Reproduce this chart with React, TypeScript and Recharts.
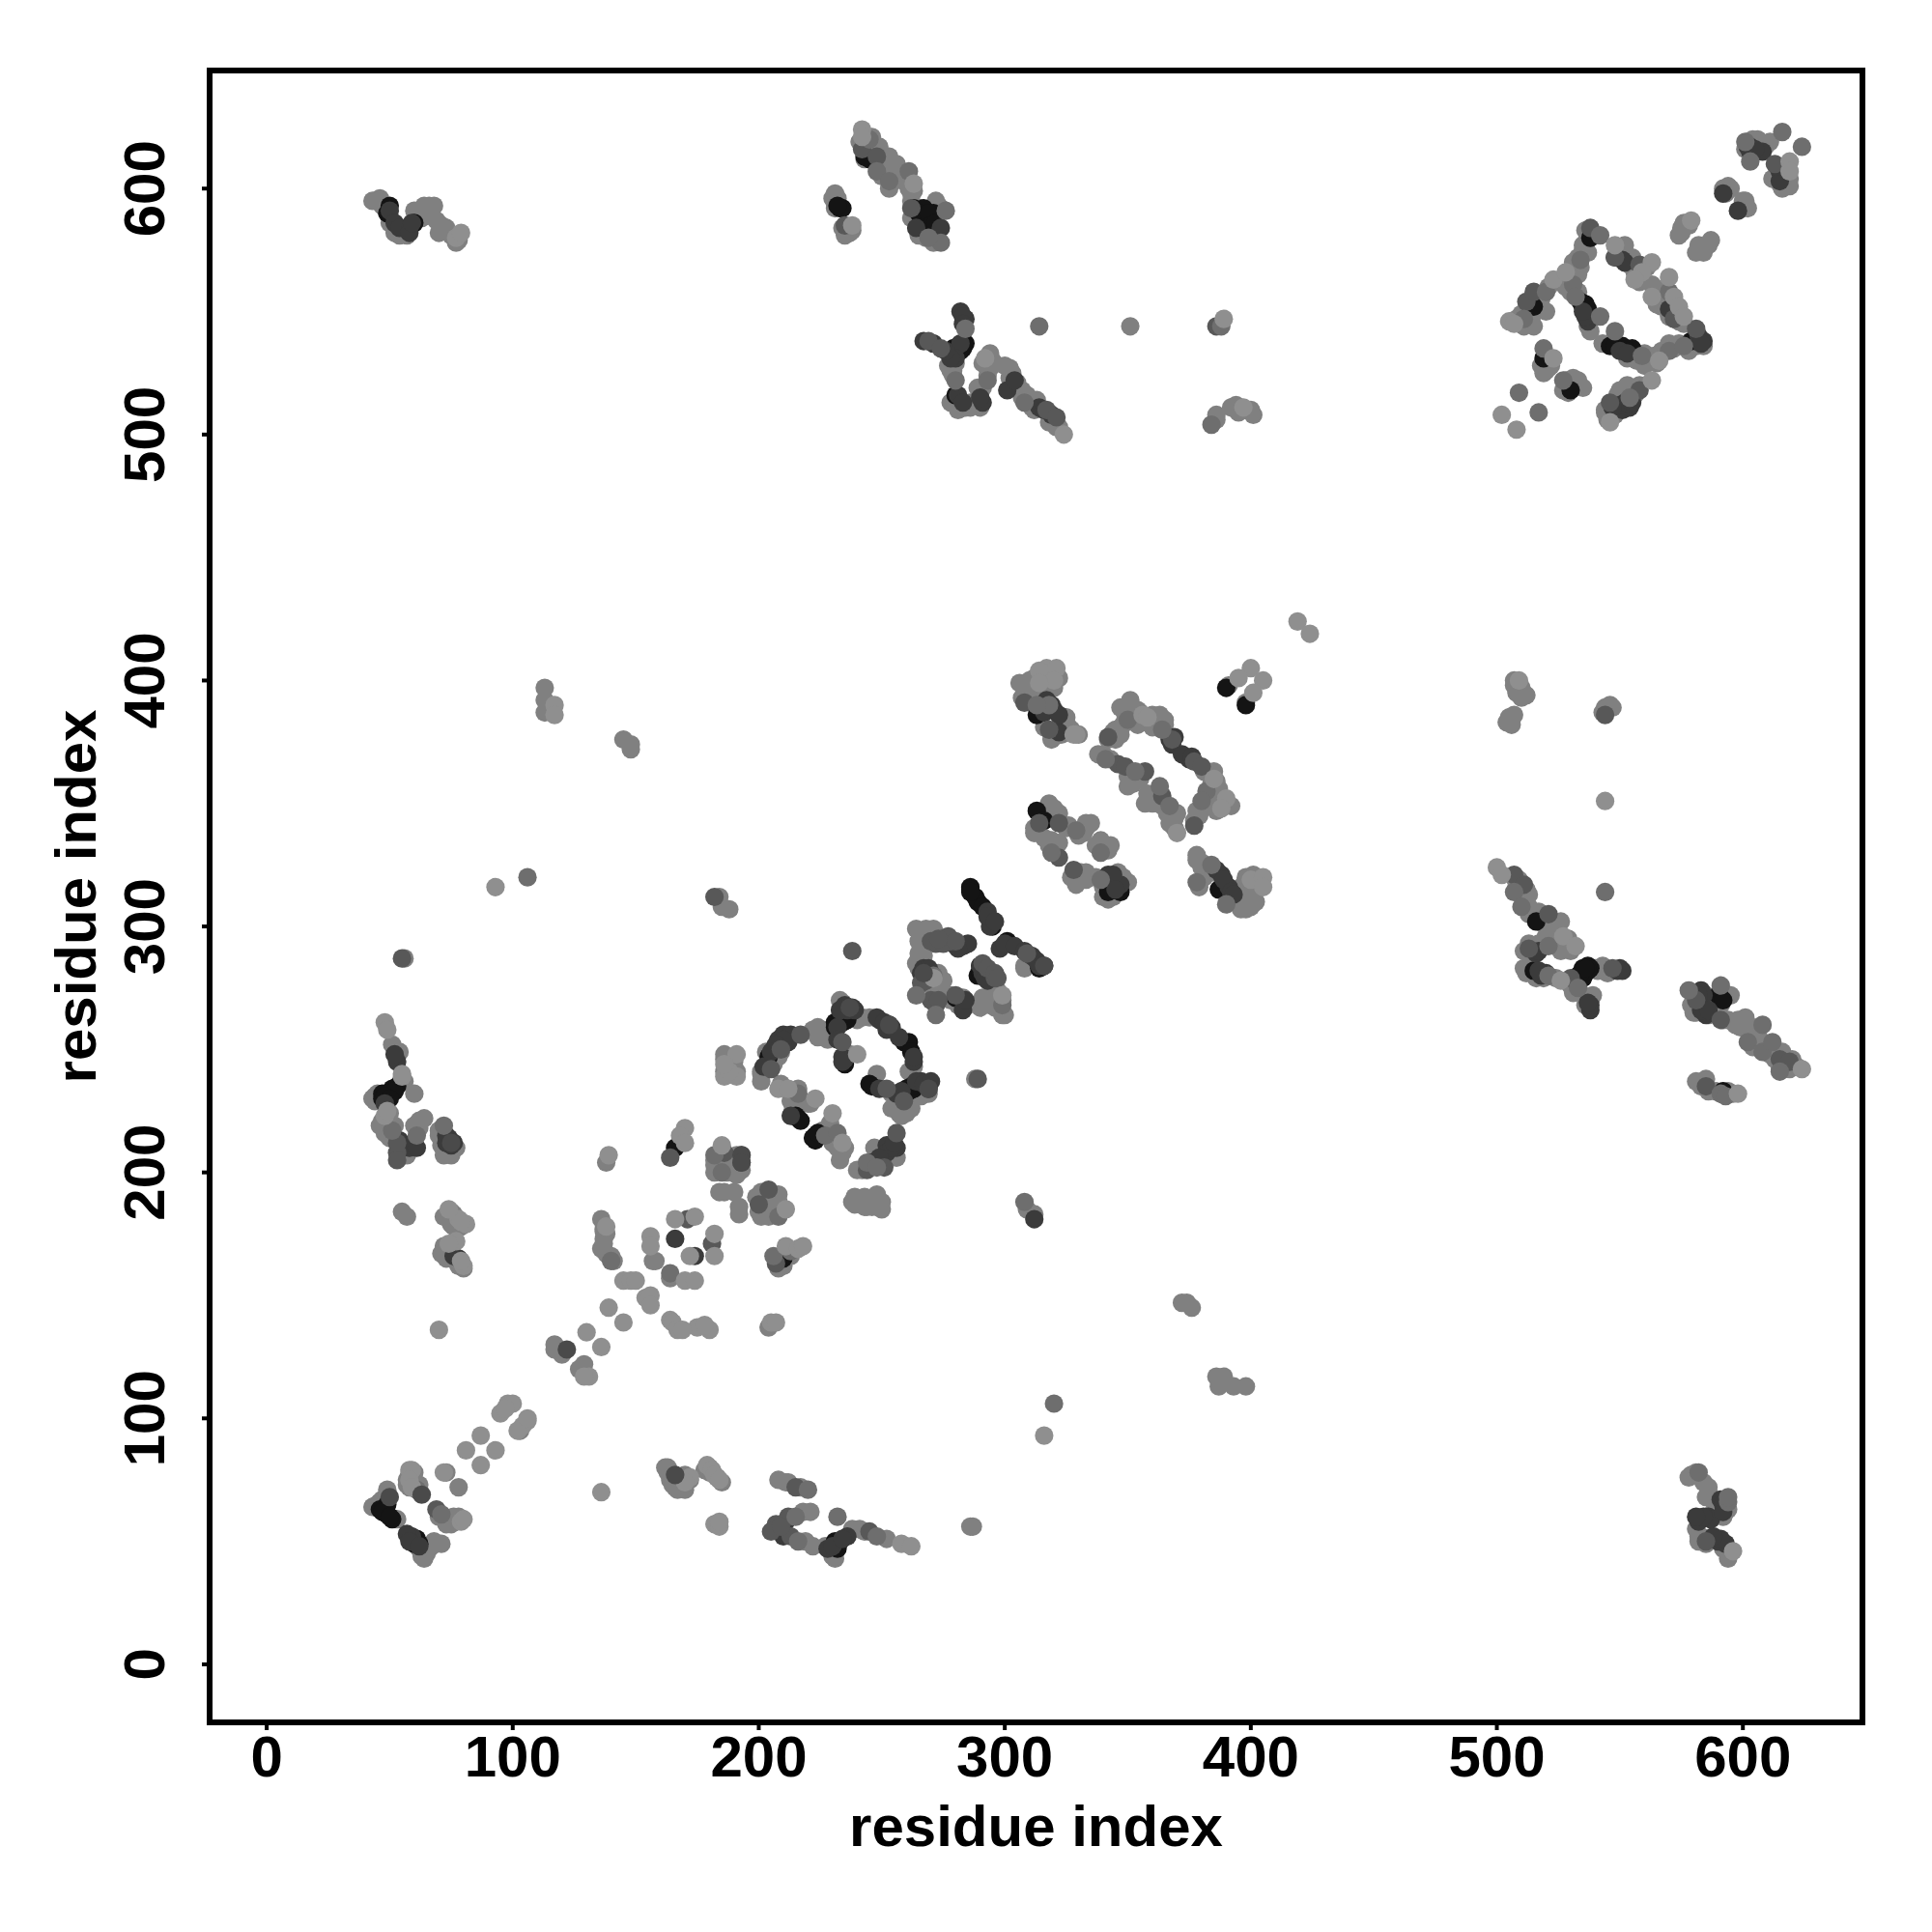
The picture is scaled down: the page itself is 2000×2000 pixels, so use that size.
import { ScatterChart, Scatter, XAxis, YAxis, ReferenceArea } from 'recharts';

const tickValues = [0, 100, 200, 300, 400, 500, 600];
const axisTitle = 'residue index';

// [residue i, residue j], grouped by how dark the contact is
const blackContacts = [
  [47, 232], [49, 230], [50, 232], [51, 234], [53, 235], [49, 232], [47, 230], [46, 63], [49, 61], [51, 59], [49, 65], [61, 51], [60, 49],
  [166, 210], [210, 165], [204, 247], [231, 261], [233, 262], [235, 263], [235, 244], [259, 253], [261, 253], [262, 249], [245, 236], [261, 233], [263, 234],
  [216, 222], [223, 215], [223, 213], [246, 204], [280, 271], [289, 280], [293, 281], [290, 284], [314, 283], [313, 386], [313, 347], [316, 343], [347, 314], [342, 314], [387, 315],
  [515, 552], [519, 531], [530, 518], [538, 580], [534, 554], [537, 551], [546, 536], [551, 536], [555, 535], [579, 538], [245, 612], [263, 592], [267, 592], [271, 590], [268, 584], [233, 592],
  [279, 535], [284, 537], [280, 516], [516, 302], [515, 282], [533, 279], [537, 284], [536, 281], [538, 283], [591, 271], [592, 233], [301, 294], [286, 316], [288, 312], [390, 397], [398, 390],
  [52, 233], [48, 231], [50, 230], [48, 63], [47, 62], [50, 60], [60, 50], [59, 51], [62, 49], [232, 260], [234, 261], [236, 262], [231, 259], [260, 234], [262, 235], [258, 232], [246, 235], [215, 223], [217, 221], [222, 214], [224, 216], [247, 203],
  [286, 315], [289, 310], [291, 308], [295, 300], [286, 314], [281, 536], [282, 534], [278, 534], [283, 535], [280, 533], [533, 280], [535, 283], [537, 282], [535, 279], [534, 281], [536, 283], [548, 536], [552, 535], [535, 552], [536, 553], [590, 272], [592, 270],
  [290, 282], [291, 282], [50, 593], [49, 590], [58, 584], [60, 586], [243, 613], [265, 590], [269, 590], [270, 585], [272, 586], [234, 592], [232, 593], [231, 50], [233, 50], [232, 47],
];
const darkContacts = [
  [53, 245], [60, 212], [57, 211], [74, 214], [75, 211], [59, 52], [166, 173], [174, 166], [78, 165], [76, 166], [202, 243], [206, 250], [208, 254], [210, 256], [213, 256], [212, 253],
  [238, 267], [235, 268], [232, 259], [234, 247], [249, 262], [253, 260], [252, 258], [263, 245], [249, 234], [257, 232], [266, 237], [269, 234], [213, 223], [256, 210], [252, 211], [250, 205],
  [266, 281], [270, 281], [283, 266], [293, 306], [294, 300], [283, 292], [290, 284], [314, 284], [316, 284], [316, 390], [320, 388], [316, 387], [322, 379], [367, 376], [375, 368], [342, 321], [347, 317], [388, 321], [391, 316],
  [312, 181], [551, 510], [554, 511], [537, 546], [584, 538], [570, 551], [551, 571], [592, 598], [598, 591], [602, 617], [603, 615], [608, 615], [615, 607], [615, 603],
  [267, 538], [278, 533], [282, 537], [280, 531], [282, 550], [284, 547], [264, 584], [274, 584], [291, 513], [301, 518], [314, 511], [518, 280], [516, 289], [551, 282], [538, 266], [583, 274], [585, 264],
  [586, 60], [582, 58], [591, 67], [593, 49], [590, 50], [304, 522],
  [52, 248], [48, 228], [54, 213], [58, 210], [61, 210], [73, 215], [76, 212], [73, 212], [50, 591], [52, 586], [54, 584], [58, 582], [59, 586], [57, 53], [58, 50], [62, 48], [210, 254], [207, 252], [205, 249], [236, 266], [239, 266], [233, 266], [232, 254], [235, 246], [234, 245],
  [248, 263], [251, 261], [254, 259], [257, 255], [263, 247], [256, 232], [258, 233], [264, 237], [267, 236], [270, 237], [252, 208], [254, 210], [255, 212], [249, 206], [267, 283], [269, 283], [284, 270], [291, 281], [292, 279], [293, 278], [298, 291], [300, 293], [304, 292], [308, 290], [311, 288], [313, 286],
  [293, 304], [296, 302], [285, 293], [281, 291], [279, 293], [275, 295], [317, 392], [319, 390], [322, 386], [368, 374], [372, 370], [376, 369], [369, 377], [344, 321], [345, 315], [386, 323], [389, 319], [392, 314], [393, 313], [278, 531], [276, 534], [271, 537], [283, 548], [283, 545], [281, 516], [283, 513], [290, 515], [316, 510], [319, 508],
  [536, 548], [535, 550], [550, 534], [553, 533], [582, 540], [583, 537], [550, 512], [552, 513], [555, 513], [547, 511], [548, 572], [552, 570], [603, 617], [605, 616], [614, 609], [538, 268], [537, 269], [549, 282], [550, 283], [584, 272], [582, 272], [583, 266], [586, 266], [587, 59], [584, 60], [581, 60], [592, 65], [592, 62], [591, 51], [588, 52], [520, 281], [517, 282], [517, 290],
  [211, 58], [210, 52], [228, 47], [236, 52], [230, 48], [234, 51],
];
const darkMidContacts = [
  [53, 208], [53, 205], [53, 212], [164, 206], [186, 208], [193, 207], [193, 204], [200, 187], [204, 193], [207, 163], [171, 181], [181, 171], [69, 63],
  [205, 242], [209, 250], [217, 256], [234, 253], [252, 234], [259, 229], [256, 216], [244, 201], [251, 202], [278, 294], [280, 272], [296, 279], [309, 289], [289, 238], [238, 290], [55, 287], [182, 312],
  [308, 391], [314, 342], [322, 342], [322, 328], [328, 323], [318, 380], [342, 377], [346, 366], [349, 365], [357, 363], [364, 353], [368, 376], [377, 367], [380, 365], [377, 341],
  [512, 554], [515, 558], [546, 513], [558, 518], [538, 584], [548, 572], [558, 569], [572, 547], [581, 543], [613, 610], [242, 616], [248, 613], [262, 592], [235, 585], [269, 538], [274, 535], [317, 510], [321, 507],
  [386, 544], [507, 321], [511, 317], [521, 305], [513, 291], [530, 279], [547, 283], [581, 270], [591, 262], [615, 246], [619, 245], [585, 235], [585, 50], [544, 386],
  [272, 293], [275, 293], [277, 296], [280, 294], [270, 294], [273, 295], [291, 285], [293, 283], [296, 281], [297, 279], [266, 277], [268, 278], [270, 270], [272, 268], [273, 270],
  [207, 57], [205, 54], [213, 52], [215, 72], [245, 54], [212, 60], [209, 56],
];
const midContacts = [
  [51, 217], [61, 215], [72, 219], [140, 164], [164, 159], [182, 207], [185, 200], [208, 182], [213, 168], [206, 166], [61, 71], [71, 61],
  [216, 232], [227, 215], [232, 216], [244, 204], [248, 202], [271, 280], [264, 272], [272, 264], [308, 188], [299, 268], [318, 390], [313, 390], [350, 384], [364, 380],
  [353, 363], [341, 368], [363, 357], [367, 349], [382, 355], [380, 351], [319, 330], [329, 339], [339, 330], [339, 319], [378, 318], [384, 325], [390, 309], [320, 106], [106, 320],
  [509, 517], [517, 509], [520, 558], [511, 547], [519, 535], [527, 522], [554, 515], [542, 581], [534, 571], [531, 561], [532, 556], [542, 548], [548, 542], [559, 532], [570, 534], [576, 536], [570, 558],
  [601, 619], [603, 611], [616, 623], [624, 617], [245, 620], [248, 607], [253, 603], [261, 607], [276, 591], [274, 578], [269, 580], [284, 543], [280, 522], [293, 522], [308, 513], [314, 544], [388, 544], [384, 504],
  [507, 314], [510, 308], [521, 292], [521, 280], [533, 275], [544, 314], [578, 274], [591, 276], [608, 260], [602, 253], [608, 249], [612, 253], [615, 241], [591, 232], [593, 231], [582, 78], [594, 66], [594, 68],
  [220, 71], [215, 60], [216, 50], [232, 60], [248, 52],
];
const greyContacts = [
  [54, 249], [51, 252], [43, 230], [60, 232], [47, 221], [55, 210], [75, 207], [71, 211], [70, 215], [62, 221], [55, 184], [57, 182], [74, 181], [75, 179], [71, 167], [74, 167],
  [117, 130], [117, 128], [120, 126], [127, 120], [129, 122], [103, 95], [73, 78], [78, 72], [43, 64], [49, 71], [53, 59], [58, 72], [57, 73], [74, 59], [77, 58], [64, 43], [63, 46], [68, 50], [71, 49],
  [162, 80], [164, 78], [165, 77], [167, 75], [167, 71], [138, 204], [136, 181], [137, 173], [136, 169], [139, 166], [158, 164], [157, 164], [164, 157], [186, 248], [186, 192], [184, 192], [192, 186], [192, 183],
  [182, 203], [191, 207], [191, 201], [191, 199], [201, 192], [208, 191], [201, 182], [204, 185], [207, 186], [204, 137], [201, 240], [208, 247], [225, 257], [227, 255], [223, 257], [234, 269], [237, 248],
  [242, 263], [245, 263], [263, 243], [248, 240], [254, 232], [269, 232], [258, 226], [257, 224], [220, 228], [214, 226], [234, 208], [240, 201], [239, 190], [239, 187], [243, 190], [248, 191], [248, 186], [243, 186],
  [278, 272], [283, 270], [299, 264], [294, 271], [290, 267], [308, 283], [308, 284], [312, 183], [309, 185], [306, 399], [308, 395], [325, 385], [325, 379], [347, 389], [351, 392], [352, 389],
  [345, 380], [345, 378], [338, 370], [350, 357], [354, 361], [357, 350], [363, 386], [369, 344], [385, 363], [386, 359], [378, 347], [377, 343], [391, 398], [398, 391], [318, 350], [312, 340], [322, 346],
  [320, 333], [322, 334], [333, 342], [332, 338], [341, 333], [343, 333], [332, 321], [333, 319], [329, 319], [340, 312], [346, 322], [350, 318], [378, 329], [380, 326], [397, 317], [401, 313], [400, 308], [396, 309],
  [518, 551], [515, 550], [511, 544], [519, 527], [522, 528], [527, 518], [531, 523], [535, 519], [544, 509], [550, 518], [536, 583], [537, 574], [532, 567], [528, 560], [537, 544], [543, 537], [553, 531], [562, 530], [572, 535], [584, 536],
  [551, 573], [555, 572], [566, 559], [575, 584], [574, 581], [587, 579], [583, 575], [581, 574], [594, 601], [592, 600], [601, 595], [600, 592], [601, 616], [607, 619], [611, 619], [615, 602], [619, 601],
  [249, 617], [253, 613], [257, 607], [262, 598], [272, 595], [265, 581], [231, 598], [231, 592], [237, 582], [278, 526], [280, 513], [286, 511], [290, 511], [290, 517], [294, 527], [302, 527], [307, 518], [313, 514],
  [321, 503], [386, 508], [394, 512], [398, 510], [401, 508], [351, 544], [507, 400], [510, 397], [512, 394], [507, 386], [504, 383], [544, 389], [547, 389], [513, 313], [513, 305], [517, 306], [522, 302], [526, 302],
  [517, 293], [511, 290], [511, 283], [538, 270], [543, 284], [580, 265], [585, 272], [595, 272], [592, 262], [601, 263], [598, 262], [604, 259], [607, 254], [616, 249], [619, 242], [581, 237], [585, 238], [579, 77], [586, 70], [594, 63], [582, 52], [594, 43],
  [43, 595], [46, 596], [52, 582], [62, 590], [64, 593], [68, 593], [66, 589], [71, 585], [70, 582], [113, 397], [113, 392], [113, 387], [145, 376], [148, 374], [148, 372], [184, 312], [185, 308], [288, 238], [56, 287], [188, 307],
  [286, 56], [287, 56], [372, 147], [374, 147], [376, 145], [386, 117], [389, 117], [387, 113], [393, 113], [398, 113],
  [44, 229], [46, 219], [48, 216], [50, 214], [52, 219], [50, 224], [45, 232], [44, 231], [56, 237], [54, 236], [57, 207], [60, 219], [62, 218], [64, 222], [70, 217], [72, 207], [73, 209], [77, 210], [75, 184], [76, 183], [77, 181], [79, 178], [76, 178], [72, 182], [72, 170], [73, 165], [77, 164], [78, 162], [80, 161],
  [58, 77], [60, 78], [57, 75], [59, 74], [60, 72], [62, 73], [72, 60], [75, 57], [78, 60], [73, 57], [76, 60], [70, 60], [46, 66], [47, 67], [45, 65], [63, 44], [65, 45], [66, 47], [62, 47], [67, 48],
  [163, 78], [164, 75], [165, 73], [168, 73], [170, 71], [172, 75], [170, 77], [163, 80], [166, 72], [168, 76], [180, 78], [183, 76], [180, 80], [185, 74], [178, 79],
  [137, 176], [137, 171], [138, 167], [140, 166], [141, 164], [137, 177], [138, 175], [186, 246], [190, 245], [186, 241], [191, 241], [183, 204], [184, 202], [187, 200], [193, 201], [189, 205], [187, 205], [182, 205], [182, 200], [184, 207],
  [201, 189], [203, 190], [205, 187], [200, 184], [202, 183], [204, 182], [206, 188], [208, 188], [209, 185], [199, 190], [203, 187], [205, 183], [190, 192], [210, 162], [208, 161], [213, 166],
  [201, 237], [201, 241], [203, 249], [209, 249], [207, 248], [204, 243], [206, 244], [222, 258], [224, 255], [226, 258], [228, 254], [224, 259], [230, 257], [233, 270], [240, 262],
  [254, 226], [256, 228], [258, 223], [260, 224], [259, 228], [257, 230], [256, 226], [262, 226], [265, 232], [262, 230], [266, 231], [209, 236], [214, 232], [216, 234], [218, 229], [221, 228], [213, 229], [229, 220], [228, 218], [230, 212], [232, 210], [235, 210], [233, 205], [226, 217],
  [244, 188], [246, 189], [241, 188], [244, 186], [246, 186], [250, 188], [250, 185], [238, 188], [242, 201], [256, 206], [252, 205], [249, 209], [247, 210], [261, 241], [262, 240],
  [264, 299], [268, 299], [271, 299], [266, 298], [272, 297], [265, 294], [268, 296], [264, 285], [265, 283], [268, 279], [270, 276], [272, 277], [273, 281], [275, 278], [267, 288], [265, 289], [275, 272], [278, 270], [281, 268], [283, 271], [285, 268], [291, 271], [295, 270], [297, 274], [299, 270], [298, 267], [296, 267], [300, 264], [294, 268],
  [308, 398], [310, 396], [307, 393], [309, 392], [310, 400], [312, 401], [316, 401], [318, 402], [322, 401], [320, 397], [316, 396], [312, 394], [312, 391], [324, 382], [326, 381], [327, 380], [330, 378], [323, 378], [320, 377], [319, 376], [316, 381],
  [342, 376], [344, 379], [345, 376], [347, 378], [348, 382], [349, 386], [352, 386], [354, 388], [356, 384], [358, 383], [360, 386], [362, 383], [365, 384], [360, 381], [365, 382], [352, 384], [354, 382], [355, 387],
  [340, 370], [343, 368], [350, 361], [352, 358], [355, 360], [358, 354], [361, 353], [360, 350], [362, 352], [364, 349], [366, 346], [367, 342], [369, 340], [368, 347], [370, 346], [383, 362], [381, 363], [384, 358], [387, 356], [389, 350], [392, 349], [386, 347], [384, 353], [379, 345], [380, 348], [383, 352], [382, 349],
  [312, 338], [316, 336], [318, 333], [319, 335], [320, 348], [319, 345], [315, 346], [317, 345], [325, 340], [326, 341], [330, 337], [333, 340], [335, 342], [337, 333], [339, 335], [340, 331], [342, 331], [331, 322], [333, 322], [327, 320], [329, 317], [335, 320], [337, 320], [340, 316], [344, 312], [342, 311], [344, 319], [348, 320],
  [378, 327], [380, 324], [381, 320], [379, 316], [382, 322], [385, 322], [395, 315], [398, 312], [402, 310], [400, 311], [396, 307], [398, 307], [402, 316], [403, 318], [398, 320], [401, 321], [509, 396], [507, 398], [508, 395], [510, 393], [505, 385], [506, 382], [546, 390], [543, 387],
  [508, 547], [510, 549], [512, 546], [514, 547], [516, 553], [518, 555], [521, 560], [515, 544], [512, 548], [520, 550], [517, 553], [518, 528], [521, 527], [520, 526], [520, 532], [519, 525], [528, 522], [530, 519], [533, 522], [533, 520], [529, 517], [544, 510], [546, 509], [548, 508], [545, 506], [549, 512], [552, 516], [555, 517], [558, 520], [549, 516], [553, 520], [556, 516],
  [535, 575], [536, 578], [533, 572], [534, 568], [530, 564], [530, 558], [531, 570], [535, 577], [533, 565], [528, 563], [530, 561], [533, 558], [538, 542], [557, 530], [560, 528], [564, 532], [567, 534], [570, 537], [574, 537], [577, 536], [578, 534], [581, 536], [565, 529], [560, 533], [552, 577], [554, 569], [556, 566], [561, 568], [558, 562], [563, 561], [565, 553], [568, 555], [567, 552], [570, 548], [572, 550], [574, 546], [576, 545], [572, 553],
  [575, 582], [576, 586], [578, 585], [582, 577], [586, 577], [584, 574], [593, 598], [595, 600], [600, 595], [602, 592], [602, 618], [604, 620], [606, 620], [609, 617], [617, 605], [617, 608], [619, 604], [616, 600], [612, 604],
  [241, 619], [244, 617], [246, 621], [247, 614], [250, 610], [252, 608], [254, 606], [256, 610], [258, 606], [259, 603], [261, 600], [263, 599], [255, 603], [253, 600], [250, 605], [243, 612], [262, 595], [262, 588], [265, 588], [266, 592], [268, 580], [270, 582], [272, 581], [271, 578], [273, 593], [274, 592], [232, 596], [230, 596], [231, 594], [234, 584], [236, 584], [238, 583], [235, 581],
  [279, 526], [280, 529], [277, 528], [279, 524], [281, 510], [278, 513], [284, 511], [286, 513], [288, 512], [289, 519], [291, 519], [293, 524], [291, 529], [293, 527], [295, 530], [294, 533], [300, 528], [303, 525], [302, 523], [305, 521], [307, 515], [309, 516], [311, 511], [312, 510], [318, 505], [320, 505], [322, 503],
  [507, 320], [509, 319], [512, 315], [508, 316], [511, 310], [513, 308], [516, 304], [519, 304], [519, 301], [523, 300], [513, 293], [515, 292], [519, 294], [520, 296], [523, 294], [525, 292], [526, 290], [529, 295], [530, 290], [512, 281], [513, 284], [516, 279], [519, 279], [524, 279], [530, 276], [531, 273], [534, 273], [536, 268], [539, 272], [540, 283], [545, 281], [541, 282],
  [579, 268], [581, 265], [583, 266], [586, 264], [585, 268], [589, 265], [591, 268], [594, 262], [597, 260], [599, 259], [600, 261], [603, 256], [605, 258], [606, 251], [604, 251], [609, 250], [611, 248], [613, 246], [615, 243], [617, 243], [620, 246], [622, 243], [583, 235], [586, 233], [589, 233], [594, 233], [596, 232],
  [578, 76], [581, 78], [584, 74], [586, 72], [585, 68], [590, 63], [592, 60], [593, 62], [588, 62], [581, 55], [582, 50], [585, 49], [583, 52], [592, 47], [594, 46],
  [45, 595], [47, 593], [48, 592], [50, 586], [54, 581], [55, 583], [56, 582], [57, 581], [60, 591], [63, 588], [66, 593], [67, 591], [69, 587], [71, 583], [73, 584], [75, 581], [77, 578], [78, 579], [386, 506], [392, 511], [395, 509], [400, 510],
  [208, 75], [211, 74], [212, 74], [217, 72], [221, 62], [218, 62], [222, 48], [227, 48], [219, 50], [230, 44], [231, 43], [238, 55], [241, 55], [252, 51], [243, 54],
];
const lightContacts = [
  [48, 261], [49, 258], [55, 239], [55, 240], [48, 223], [49, 225], [78, 181], [81, 179], [79, 180], [74, 185], [77, 172], [80, 162], [79, 164], [74, 171], [70, 136],
  [130, 135], [136, 129], [131, 117], [129, 117], [139, 145], [145, 139], [98, 106], [100, 106], [95, 102], [97, 104], [106, 99], [104, 97], [102, 95], [106, 100], [87, 93], [81, 87], [93, 87], [87, 81], [72, 78],
  [58, 79], [59, 79], [58, 75], [59, 72], [79, 58], [80, 59], [136, 70], [172, 76], [179, 81], [181, 79], [182, 77], [184, 75], [170, 74], [182, 57], [184, 56], [184, 58],
  [139, 207], [138, 178], [145, 156], [148, 156], [150, 156], [154, 149], [156, 150], [156, 146], [156, 174], [156, 170], [170, 156], [174, 156], [166, 181], [174, 182], [172, 166], [182, 166], [182, 175],
  [164, 140], [165, 139], [167, 136], [175, 137], [180, 136], [178, 138], [169, 136], [205, 139], [207, 139], [170, 218], [168, 215], [170, 212], [185, 211], [191, 248], [186, 239], [191, 239], [188, 241], [186, 244],
  [211, 185], [211, 170], [216, 169], [218, 170], [240, 248], [208, 234], [212, 234], [223, 230], [230, 224], [234, 212], [271, 279], [299, 272],
  [317, 405], [321, 405], [314, 404], [320, 400], [314, 399], [329, 378], [356, 386], [385, 360], [390, 352], [388, 348], [370, 338], [400, 405], [395, 401], [405, 400], [401, 395], [328, 378],
  [400, 319], [405, 320], [405, 316], [358, 385], [502, 508], [508, 502], [523, 563], [505, 546], [507, 545], [523, 531], [546, 505], [563, 522], [528, 566], [566, 530],
  [548, 577], [563, 570], [559, 566], [556, 563], [570, 564], [563, 556], [572, 556], [574, 552], [576, 548], [579, 587], [619, 611], [619, 607], [242, 624], [242, 621], [263, 602], [238, 585],
  [292, 531], [324, 500], [316, 93], [419, 424], [424, 419], [544, 351], [500, 324], [502, 321], [526, 278], [527, 296], [532, 292], [624, 242], [598, 232], [596, 46], [93, 316], [117, 390], [117, 386],
  [77, 580], [79, 582], [389, 547], [397, 511], [509, 400], [258, 49], [262, 48],
];
// these few sit on top of their lighter neighbours
const accentContacts = [
  [50, 68], [63, 69], [122, 128], [166, 77], [269, 234], [253, 260], [193, 207], [193, 204], [75, 212], [237, 267], [267, 281], [316, 284],
];

// grey goes down first so the dark contacts stay visible through the clusters
const layers = [
  { name: 'grey', points: greyContacts, shade: '#808080' },
  { name: 'black', points: blackContacts, shade: '#141414' },
  { name: 'dark', points: darkContacts, shade: '#3b3b3b' },
  { name: 'darkMid', points: darkMidContacts, shade: '#585858' },
  { name: 'mid', points: midContacts, shade: '#6e6e6e' },
  { name: 'light', points: lightContacts, shade: '#8f8f8f' },
  { name: 'accent', points: accentContacts, shade: '#4a4a4a' },
];

const fontBold = { fontFamily: '"Liberation Sans"', fontWeight: 700, fontSize: 60, fill: '#000' };

export default function App() {
  return (
    <div style={{ position: 'absolute', left: 0, top: 0, width: 2000, height: 2000, background: '#fff' }}>
      <ScatterChart width={2000} height={2000} margin={{ top: 73, right: 72, left: 0, bottom: 0 }}>
        <XAxis
          type="number"
          dataKey="x"
          domain={[-23.2, 648.6]}
          ticks={tickValues}
          allowDataOverflow
          height={217}
          axisLine={false}
          tickSize={8}
          tickLine={{ stroke: '#000', strokeWidth: 4 }}
          tick={(p: any) => (
            <text x={p.x} y={p.y + 46} textAnchor="middle" {...fontBold}>
              {p.payload.value}
            </text>
          )}
          label={(p: any) => (
            <text x={p.viewBox.x + p.viewBox.width / 2} y={1911} textAnchor="middle" {...fontBold}>
              {axisTitle}
            </text>
          )}
        />
        <YAxis
          type="number"
          dataKey="y"
          domain={[-23.6, 648]}
          ticks={tickValues}
          allowDataOverflow
          width={217}
          axisLine={false}
          tickSize={8}
          tickLine={{ stroke: '#000', strokeWidth: 4 }}
          tick={(p: any) => (
            <text
              x={p.x - 37}
              y={p.y}
              textAnchor="middle"
              transform={`rotate(-90 ${p.x - 37} ${p.y})`}
              {...fontBold}
            >
              {p.payload.value}
            </text>
          )}
          label={(p: any) => {
            const cy = p.viewBox.y + p.viewBox.height / 2;
            return (
              <text x={99} y={cy} textAnchor="middle" transform={`rotate(-90 99 ${cy})`} {...fontBold}>
                {axisTitle}
              </text>
            );
          }}
        />
        <ReferenceArea x1={-23.2} x2={648.6} y1={-23.6} y2={648} fill="none" stroke="#000" strokeWidth={6} />
        {layers.map((l) => (
          <Scatter
            key={l.name}
            name={l.name}
            data={l.points.map(([x, y]) => ({ x, y }))}
            isAnimationActive={false}
            shape={(p: any) => <circle cx={p.cx} cy={p.cy} r={9.6} fill={l.shade} />}
          />
        ))}
      </ScatterChart>
    </div>
  );
}
